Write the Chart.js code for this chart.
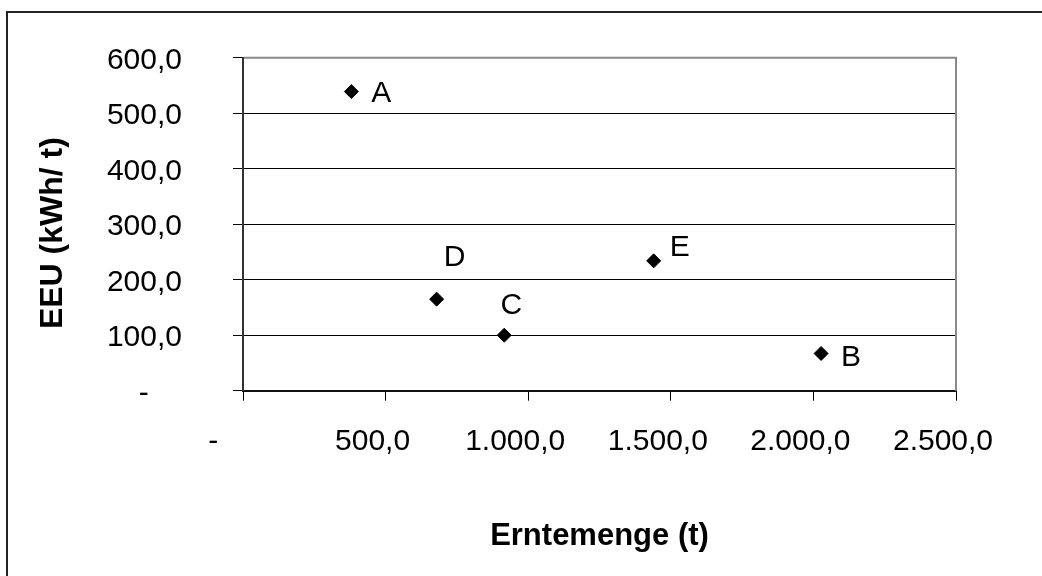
<!DOCTYPE html>
<html>
<head>
<meta charset="utf-8">
<script src="https://cdn.jsdelivr.net/npm/chart.js@4.4.1/dist/chart.umd.min.js"></script>
<style>
  html, body { margin: 0; padding: 0; background: #fff; }
  #wrap { width: 1042px; height: 576px; position: relative; }
</style>
</head>
<body>
<div id="wrap"><canvas id="c" width="1042" height="576"></canvas></div>
<script>
// ---- data ----
const pointLabels = ['A', 'B', 'C', 'D', 'E'];
const erntemenge = [380, 2027, 916, 679, 1440];     // t
const eeu = [539, 67, 100, 165, 234];                // kWh/t
const xTickLabels = ['-    ', '500,0', '1.000,0', '1.500,0', '2.000,0', '2.500,0'];
const yTickLabels = ['-    ', '100,0', '200,0', '300,0', '400,0', '500,0', '600,0'];
const xTitle = 'Erntemenge (t)';
const yTitle = 'EEU (kWh/ t)  ';

// label nudges (pixels) relative to each point, style only
const labelNudge = [[30, 2], [30, 4], [7, -29], [18, -41], [26, -13]];

const FONT = '"Liberation Sans", Arial, sans-serif';
Chart.defaults.color = '#000';
Chart.defaults.font.family = FONT;

const framePlugin = {
  id: 'frame',
  afterDraw(chart) {
    const ctx = chart.ctx;
    const a = chart.chartArea;
    ctx.save();
    // plot area border (top & right)
    ctx.strokeStyle = '#8a8a8a';
    ctx.lineWidth = 2;
    ctx.beginPath();
    ctx.moveTo(a.left + 1, a.top);
    ctx.lineTo(a.right, a.top);
    ctx.lineTo(a.right, a.bottom);
    ctx.stroke();
    // outer chart frame
    ctx.strokeStyle = '#222';
    ctx.lineWidth = 2;
    ctx.strokeRect(7, 12, 1200, 800);
    ctx.restore();
  }
};

const labelPlugin = {
  id: 'pointLabels',
  afterDatasetsDraw(chart) {
    const ctx = chart.ctx;
    const meta = chart.getDatasetMeta(0);
    ctx.save();
    ctx.font = '30px ' + FONT;
    ctx.fillStyle = '#000';
    ctx.textAlign = 'center';
    ctx.textBaseline = 'middle';
    meta.data.forEach((el, i) => {
      const n = labelNudge[i];
      ctx.fillText(pointLabels[i], el.x + n[0], el.y + n[1]);
    });
    ctx.restore();
  }
};

new Chart(document.getElementById('c'), {
  type: 'scatter',
  data: {
    datasets: [{
      data: erntemenge.map((x, i) => ({ x: x, y: eeu[i] })),
      pointStyle: 'rectRot',
      pointRadius: 7,
      pointHoverRadius: 7,
      backgroundColor: '#000',
      borderColor: '#000',
      borderWidth: 1
    }]
  },
  options: {
    responsive: false,
    animation: false,
    devicePixelRatio: 1,
    layout: { padding: { top: 57.7, right: 86, left: 0, bottom: 0 } },
    plugins: { legend: { display: false }, tooltip: { enabled: false } },
    scales: {
      x: {
        type: 'linear',
        min: 0, max: 2500,
        afterFit(s) { s.height = 576 - 390.7; },
        afterBuildTicks(s) { s.ticks = xTickLabels.map((_, i) => ({ value: i * 500 })); },
        ticks: {
          stepSize: 500,
          font: { size: 30, family: FONT },
          color: '#000',
          padding: 23,
          labelOffset: -13,
          maxRotation: 0,
          autoSkip: false,
          callback: (v, i) => xTickLabels[i]
        },
        grid: { drawOnChartArea: false, drawTicks: true, tickLength: 10, tickColor: '#000', tickWidth: 1 },
        border: { display: true, color: '#111', width: 2 },
        title: {
          display: true, text: xTitle,
          font: { size: 31, weight: 'bold', family: FONT },
          color: '#000',
          padding: { top: 0, bottom: 21 }
        }
      },
      y: {
        type: 'linear',
        min: 0, max: 600,
        afterFit(s) { s.width = 243; s.paddingTop = 0; s.paddingBottom = 0; },
        afterBuildTicks(s) { s.ticks = yTickLabels.map((_, i) => ({ value: i * 100 })); },
        ticks: {
          stepSize: 100,
          font: { size: 30, family: FONT },
          color: '#000',
          padding: 51,
          labelOffset: 3,
          autoSkip: false,
          callback: (v, i) => yTickLabels[i]
        },
        grid: { color: '#000', lineWidth: 1, drawTicks: true, tickLength: 10, tickColor: '#000', tickWidth: 1 },
        border: { display: true, color: '#333', width: 2 },
        title: {
          display: true, text: yTitle,
          font: { size: 32, weight: 'bold', family: FONT },
          color: '#000',
          padding: { top: 34, bottom: 0 }
        }
      }
    }
  },
  plugins: [labelPlugin, framePlugin]
});
</script>
</body>
</html>
